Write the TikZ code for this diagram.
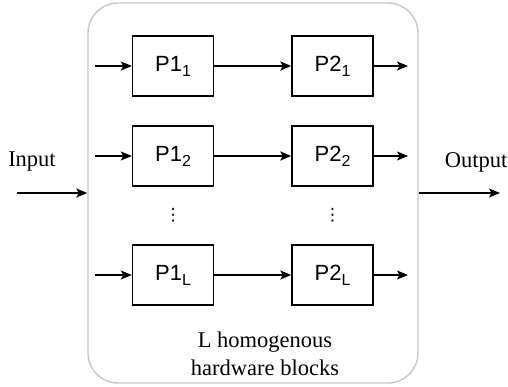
\documentclass[tikz,border=0pt]{standalone}
\usepackage{fontspec}
\setmainfont{Liberation Serif}
\newfontfamily\boxfont{Liberation Sans}
\newfontfamily\symfont{DejaVu Sans}
\usetikzlibrary{arrows.meta}
\newcommand{\lowsub}[1]{\raisebox{-5pt}{\fontsize{16}{16}\selectfont #1}}
\tikzset{
  pbox/.style={draw=black, line width=1.4pt, minimum width=81pt, minimum height=60pt, inner sep=0pt,
    font=\boxfont\fontsize{22}{26}\selectfont},
  arr/.style={line width=1.4pt, -{Stealth[length=11pt,width=9pt,inset=2.5pt]}},
  outer/.style={draw=black!22, line width=1.4pt, rounded corners=30pt, minimum width=330pt, minimum height=380pt, inner sep=0pt},
  lbl/.style={font=\fontsize{22.5}{28}\selectfont, inner sep=0pt},
  dotsn/.style={font=\symfont\fontsize{17}{17}\selectfont, inner sep=0pt}
}
\begin{document}
\begin{tikzpicture}[x=1pt,y=-1pt]
\useasboundingbox (0,0) rectangle (508,387);
\node[outer] (blk) at (253,193) {};
\node[pbox] (p11) at (173,66) {P1\lowsub{1}};
\node[pbox] (p21) at (332.5,66) {P2\lowsub{1}};
\node[pbox] (p12) at (173,156) {P1\lowsub{2}};
\node[pbox] (p22) at (332.5,156) {P2\lowsub{2}};
\node[pbox] (p1l) at (173,275) {P1\lowsub{L}};
\node[pbox] (p2l) at (332.5,275) {P2\lowsub{L}};
\node[dotsn] (d1) at (173,215) {⋮};
\node[dotsn] (d2) at (332.5,215) {⋮};
\coordinate (a1) at (95,66);
\coordinate (a2) at (95,156);
\coordinate (al) at (95,275);
\coordinate (b1) at (408,66);
\coordinate (b2) at (408,156);
\coordinate (bl) at (408,275);
\draw[arr] (a1) -- (p11);
\draw[arr] (a2) -- (p12);
\draw[arr] (al) -- (p1l);
\draw[arr] (p11) -- (p21);
\draw[arr] (p12) -- (p22);
\draw[arr] (p1l) -- (p2l);
\draw[arr] (p21) -- (b1);
\draw[arr] (p22) -- (b2);
\draw[arr] (p2l) -- (bl);
\coordinate (inS) at (17,193);
\coordinate (outE) at (500,193);
\draw[arr] (inS) -- (inS -| blk.west);
\draw[arr] (outE -| blk.east) -- (outE);
\node[lbl] (tin) at (32,162) {Input};
\node[lbl] (tout) at (476,162) {Output};
\node[lbl, align=center] (tl) at (265,354) {L homogenous\\hardware blocks};
\end{tikzpicture}
\end{document}
